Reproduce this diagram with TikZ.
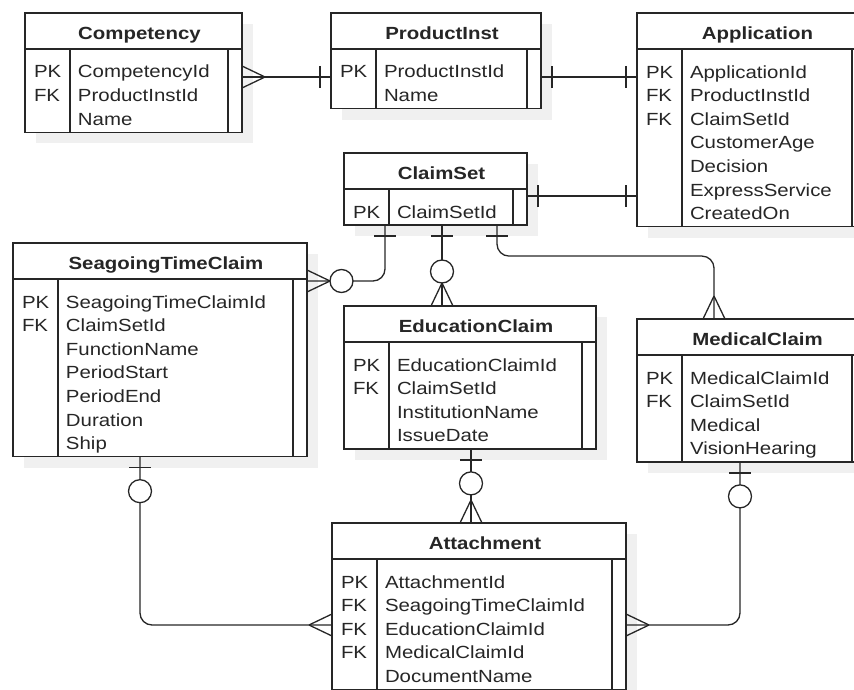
\documentclass[tikz,border=0pt]{standalone}
\usepackage{fontspec}
\setmainfont{Liberation Sans}[FakeStretch=1.16]
\usepackage{tikz}
\usetikzlibrary{positioning,shadows}

\tikzset{
  mandone/.pic={\draw (-11,-11) -- (-11,11);},
  optone/.pic={\draw (-11,-11) -- (-11,11); \draw[fill=white] (-34.5,0) circle (11.5);},
  many/.pic={\draw (-23,0) -- (0,-11) (-23,0) -- (0,11);},
  optmany/.pic={\draw (-23,0) -- (0,-11) (-23,0) -- (0,11); \draw[fill=white] (-34.5,0) circle (11.5);}
}

\begin{document}
\begin{tikzpicture}[
x=1pt, y=-1pt,
line width=1.3pt, color=black!85,
font=\fontsize{17.6}{23.6}\selectfont,
ehead/.style={draw, fill=white, anchor=north west, outer sep=0pt, inner sep=0pt,
  minimum height=36pt, text height=16.6pt, text depth=0pt,
  font=\fontsize{17.6}{23.6}\selectfont\bfseries,
  execute at begin node={\hspace*{12pt}},
  drop shadow={shadow xshift=11pt, shadow yshift=-11pt, fill=black!6, opacity=1}},
ebody/.style={draw, fill=white, outer sep=0pt, inner xsep=9pt, inner ysep=0pt, align=left,
  drop shadow={shadow xshift=11pt, shadow yshift=-11pt, fill=black!6, opacity=1}}]
\useasboundingbox (0,0) rectangle (854,690);

% tables
\node[ehead, minimum width=217pt] (comph) at (25,13) {Competency};
\node[ebody, text width=199pt, below=0pt of comph] (comp) {\begin{tabular}{@{}p{44pt}@{}l@{}}
  \rule{0pt}{29pt}PK & CompetencyId\\
  FK & ProductInstId\\
     & Name
\end{tabular}};

\node[ehead, minimum width=210pt] (prodh) at (331,13) {ProductInst};
\node[ebody, text width=192pt, below=0pt of prodh] (prod) {\begin{tabular}{@{}p{44pt}@{}l@{}}
  \rule{0pt}{29pt}PK & ProductInstId\\
     & Name
\end{tabular}};

\node[ehead, minimum width=229pt] (apph) at (637,13) {Application};
\node[ebody, text width=211pt, below=0pt of apph] (app) {\begin{tabular}{@{}p{44pt}@{}l@{}}
  \rule{0pt}{29pt}PK & ApplicationId\\
  FK & ProductInstId\\
  FK & ClaimSetId\\
     & CustomerAge\\
     & Decision\\
     & ExpressService\\
     & CreatedOn
\end{tabular}};

\node[ehead, minimum width=183pt] (csh) at (344,153) {ClaimSet};
\node[ebody, text width=165pt, below=0pt of csh] (cs) {\begin{tabular}{@{}p{44pt}@{}l@{}}
  \rule{0pt}{29pt}PK & ClaimSetId
\end{tabular}};

\node[ehead, minimum width=294pt] (stch) at (13,243) {SeagoingTimeClaim};
\node[ebody, text width=276pt, below=0pt of stch] (stc) {\begin{tabular}{@{}p{44pt}@{}l@{}}
  \rule{0pt}{29pt}PK & SeagoingTimeClaimId\\
  FK & ClaimSetId\\
     & FunctionName\\
     & PeriodStart\\
     & PeriodEnd\\
     & Duration\\
     & Ship
\end{tabular}};

\node[ehead, minimum width=252pt] (eduh) at (344,306) {EducationClaim};
\node[ebody, text width=234pt, below=0pt of eduh] (edu) {\begin{tabular}{@{}p{44pt}@{}l@{}}
  \rule{0pt}{29pt}PK & EducationClaimId\\
  FK & ClaimSetId\\
     & InstitutionName\\
     & IssueDate
\end{tabular}};

\node[ehead, minimum width=229pt] (medh) at (637,319) {MedicalClaim};
\node[ebody, text width=211pt, below=0pt of medh] (med) {\begin{tabular}{@{}p{44pt}@{}l@{}}
  \rule{0pt}{29pt}PK & MedicalClaimId\\
  FK & ClaimSetId\\
     & Medical\\
     & VisionHearing
\end{tabular}};

\node[ehead, minimum width=294pt] (atth) at (332,523) {Attachment};
\node[ebody, text width=276pt, below=0pt of atth] (att) {\begin{tabular}{@{}p{44pt}@{}l@{}}
  \rule{0pt}{29pt}PK & AttachmentId\\
  FK & SeagoingTimeClaimId\\
  FK & EducationClaimId\\
  FK & MedicalClaimId\\
     & DocumentName
\end{tabular}};

% key column and right column
\foreach \t in {comp,prod,app,cs,stc,edu,med,att}{
  \draw ([xshift=45pt]\t.north west) -- ([xshift=45pt]\t.south west);
  \draw ([xshift=-14pt]\t.north east) -- ([xshift=-14pt]\t.south east);
}

% end points of the relations
\coordinate (comp-r) at ([yshift=-28pt]comp.north east);
\coordinate (prod-l) at ([yshift=-28pt]prod.north west);
\coordinate (prod-r) at ([yshift=-28pt]prod.north east);
\coordinate (app-l) at ([yshift=-28pt]app.north west);
\coordinate (cs-r) at ([yshift=-7pt]cs.north east);
\coordinate (cs-s1) at ([xshift=41pt]cs.south west);
\coordinate (cs-s2) at ([xshift=98pt]cs.south west);
\coordinate (cs-s3) at ([xshift=153pt]cs.south west);
\coordinate (stc-r) at ([yshift=-2pt]stc.north east);
\coordinate (stc-s) at ([xshift=127pt]stc.south west);
\coordinate (edu-n) at ([xshift=98pt]eduh.north west);
\coordinate (edu-s) at ([xshift=127pt]edu.south west);
\coordinate (med-n) at ([xshift=77pt]medh.north west);
\coordinate (med-s) at ([xshift=103pt]med.south west);
\coordinate (att-l) at ([yshift=-66pt]att.north west);
\coordinate (att-n) at ([xshift=139pt]atth.north west);
\coordinate (att-r) at ([yshift=-66pt]att.north east);

% relations
\draw (comp-r) -- (prod-l);
\draw (prod-r) -- (app-l);
\draw (cs-r) -- (cs-r -| app.west);
\draw[rounded corners=12pt] (cs-s1) |- (stc-r);
\draw (cs-s2) -- (edu-n);
\draw[rounded corners=12pt] (cs-s3) -- ++(0,31) -| (med-n);
\draw[rounded corners=12pt] (stc-s) |- (att-l);
\draw (edu-s) -- (att-n);
\draw[rounded corners=12pt] (med-s) |- (att-r);

% cardinalities
\pic[rotate=180] at (comp-r) {many};
\pic at (prod-l) {mandone};
\pic[rotate=180] at (prod-r) {mandone};
\pic at (app-l) {mandone};
\pic[rotate=180] at (cs-r) {mandone};
\pic at (cs-r -| app.west) {mandone};
\pic[rotate=90] at (cs-s1) {mandone};
\pic[rotate=180] at (stc-r) {optmany};
\pic[rotate=90] at (cs-s2) {mandone};
\pic[rotate=-90] at (edu-n) {optmany};
\pic[rotate=90] at (cs-s3) {mandone};
\pic[rotate=-90] at (med-n) {many};
\pic[rotate=90] at (stc-s) {optone};
\pic at (att-l) {many};
\pic[rotate=90] at (edu-s) {optone};
\pic[rotate=-90] at (att-n) {many};
\pic[rotate=90] at (med-s) {optone};
\pic[rotate=180] at (att-r) {many};
\end{tikzpicture}
\end{document}
